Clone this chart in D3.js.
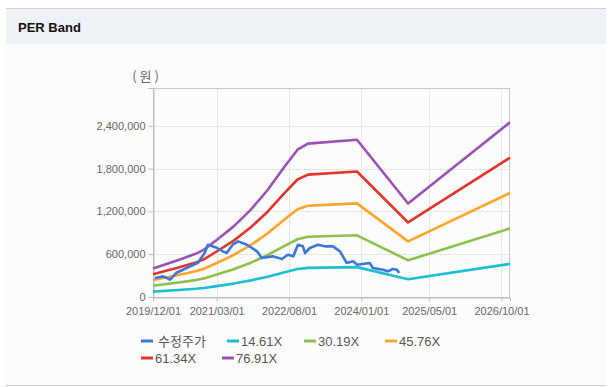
<!DOCTYPE html>
<html>
<head>
<meta charset="utf-8">
<script src="https://cdn.jsdelivr.net/npm/d3@7"></script>
<style>
  body { margin: 0; background: #fff; }
  svg text { font-family: "Liberation Sans", Arial, "Noto Sans CJK KR", sans-serif; }
</style>
</head>
<body>
<svg id="chart" width="614" height="387"></svg>
<script>
// band dates (monthly-ish key points)
const bandDates = ['2019-12-01', '2020-06-01', '2020-10-01', '2020-12-01', '2021-03-01', '2021-07-01',
  '2021-11-01', '2022-03-01', '2022-07-01', '2022-10-01', '2022-12-15', '2023-12-01', '2024-12-01', '2026-12-01'];

const band14 = [76000, 99000, 115000, 126000, 152000, 188000, 233000, 285000, 348000, 392000, 408000, 419000, 249000, 465000];
const band30 = [157000, 204000, 237000, 261000, 314000, 389000, 481000, 589000, 718000, 810000, 844000, 865000, 514000, 962000];
const band45 = [238000, 309000, 360000, 396000, 476000, 589000, 729000, 892000, 1089000, 1229000, 1279000, 1312000, 780000, 1458000];
const band61 = [319000, 415000, 482000, 530000, 638000, 790000, 977000, 1196000, 1460000, 1647000, 1715000, 1759000, 1045000, 1954000];
const band76 = [400000, 520000, 605000, 665000, 800000, 990000, 1225000, 1500000, 1830000, 2065000, 2150000, 2205000, 1310000, 2450000];

// 수정주가
const priceDates = ['2019-12-15', '2020-02-12', '2020-04-01', '2020-05-18', '2020-08-01', '2020-10-18', '2020-12-06',
  '2020-12-28', '2021-03-01', '2021-04-15', '2021-05-12', '2021-06-24', '2021-08-01', '2021-10-04', '2021-12-15',
  '2022-01-18', '2022-04-06', '2022-06-12', '2022-07-24', '2022-09-01', '2022-10-04', '2022-11-09', '2022-11-24',
  '2022-12-28', '2023-02-24', '2023-04-15', '2023-06-12', '2023-08-01', '2023-09-18', '2023-11-04', '2023-12-01',
  '2024-03-01', '2024-03-24', '2024-06-04', '2024-07-09', '2024-08-15', '2024-09-12', '2024-09-28'];
const priceValues = [266000, 289000, 243000, 340000, 410000, 480000, 620000,
  733000, 690000, 640000, 617000, 733000, 780000, 733000, 640000,
  547000, 570000, 533000, 593000, 570000, 733000, 710000, 617000,
  687000, 733000, 710000, 710000, 640000, 477000, 500000, 453000,
  477000, 407000, 383000, 360000, 393000, 383000, 337000];

const seriesNames = ['수정주가', '14.61X', '30.19X', '45.76X', '61.34X', '76.91X'];
const seriesColors = ['#3a78d8', '#1bbfd1', '#8dbf4c', '#fba62a', '#e2352c', '#9a52b2'];

const xTicks = ['2019-12-01', '2021-03-01', '2022-08-01', '2024-01-01', '2025-05-01', '2026-10-01'];
const yTicks = [0, 600000, 1200000, 1800000, 2400000];

const svg = d3.select('#chart');
const parse = d3.timeParse('%Y-%m-%d');

// card + header
svg.append('rect').attr('x', 6).attr('y', 8).attr('width', 600).attr('height', 378).attr('fill', '#fcfcfd');
svg.append('rect').attr('x', 6).attr('y', 8).attr('width', 600).attr('height', 36).attr('fill', '#eef2f7');
svg.append('line').attr('x1', 6).attr('x2', 606).attr('y1', 8.5).attr('y2', 8.5).attr('stroke', '#cfcfcf');
svg.append('line').attr('x1', 6).attr('x2', 606).attr('y1', 385.5).attr('y2', 385.5).attr('stroke', '#cfcfcf');
svg.append('text').attr('x', 18).attr('y', 32).text('PER Band')
    .attr('font-size', 13).attr('font-weight', 'bold').attr('fill', '#111');

const plotLeft = 153, plotRight = 510, plotTop = 88, plotBottom = 297;

const x = d3.scaleTime()
    .domain([parse('2019-12-01'), parse('2026-12-01')])
    .range([plotLeft, plotRight]);
const y = d3.scaleLinear()
    .domain([0, 2930000])
    .range([plotBottom, plotTop]);

// grid
const grid = svg.append('g');
grid.selectAll('.gy').data(yTicks.slice(1)).enter().append('line')
    .attr('x1', plotLeft).attr('x2', plotRight)
    .attr('y1', d => Math.round(y(d)) + 0.5).attr('y2', d => Math.round(y(d)) + 0.5)
    .attr('stroke', '#e6e6e6');
grid.selectAll('.gx').data(xTicks.slice(1)).enter().append('line')
    .attr('x1', d => Math.round(x(parse(d))) + 0.5).attr('x2', d => Math.round(x(parse(d))) + 0.5)
    .attr('y1', plotTop).attr('y2', plotBottom)
    .attr('stroke', '#e6e6e6');

// frame
svg.append('rect').attr('x', plotLeft + 0.5).attr('y', plotTop + 0.5)
    .attr('width', plotRight - plotLeft - 1).attr('height', plotBottom - plotTop)
    .attr('fill', 'none').attr('stroke', '#c8c8c8');

// axes
const xAxis = svg.append('g')
    .attr('transform', `translate(0,${plotBottom + 0.5})`)
    .call(d3.axisBottom(x).tickValues(xTicks.map(parse)).tickFormat(d3.timeFormat('%Y/%m/%d')).tickSize(4).tickPadding(6));
const yAxis = svg.append('g')
    .attr('transform', `translate(${plotLeft + 0.5},0)`)
    .call(d3.axisLeft(y).tickValues(yTicks).tickFormat(d3.format(',')).tickSize(5).tickPadding(3));
[xAxis, yAxis].forEach(ax => {
    ax.select('.domain').attr('stroke', '#bbb');
    ax.selectAll('.tick line').attr('stroke', '#bbb');
    ax.selectAll('.tick text').attr('fill', '#666').attr('font-size', 11)
        .attr('font-family', '"Liberation Sans", Arial, sans-serif');
});

svg.append('text').attr('x', 147).attr('y', 81).attr('text-anchor', 'middle')
    .attr('font-size', 13).attr('fill', '#666').attr('letter-spacing', 3)
    .style('font-family', '"Noto Sans CJK KR", sans-serif')
    .text('(원)');

// lines
const line = d3.line()
    .x(d => x(d.date))
    .y(d => y(d.value));

const bands = [band14, band30, band45, band61, band76];
const lineG = svg.append('g');
bands.forEach((vals, i) => {
    const data = bandDates.map((dt, j) => ({ date: parse(dt), value: vals[j] }));
    lineG.append('path').datum(data)
        .attr('d', line)
        .attr('fill', 'none')
        .attr('stroke', seriesColors[i + 1])
        .attr('stroke-width', 2.6)
        .attr('stroke-linejoin', 'round');
});
const priceData = priceDates.map((dt, j) => ({ date: parse(dt), value: priceValues[j] }));
lineG.append('path').datum(priceData)
    .attr('d', line)
    .attr('fill', 'none')
    .attr('stroke', seriesColors[0])
    .attr('stroke-width', 2.6)
    .attr('stroke-linejoin', 'round');

// legend
const legendPos = [[141, 341], [227, 341], [304, 341], [385, 341], [141, 358], [222, 358]];
const legend = svg.append('g');
seriesNames.forEach((name, i) => {
    const [lx, ly] = legendPos[i];
    legend.append('line')
        .attr('x1', lx).attr('x2', lx + 12)
        .attr('y1', ly).attr('y2', ly)
        .attr('stroke', seriesColors[i]).attr('stroke-width', 3);
    legend.append('text')
        .attr('x', lx + (i === 0 ? 17 : 14)).attr('y', ly + 5)
        .attr('font-size', 13).attr('fill', '#555')
        .style('font-family', i === 0 ? '"Noto Sans CJK KR", sans-serif' : '"Liberation Sans", Arial, sans-serif')
        .text(name);
});
</script>
</body>
</html>
